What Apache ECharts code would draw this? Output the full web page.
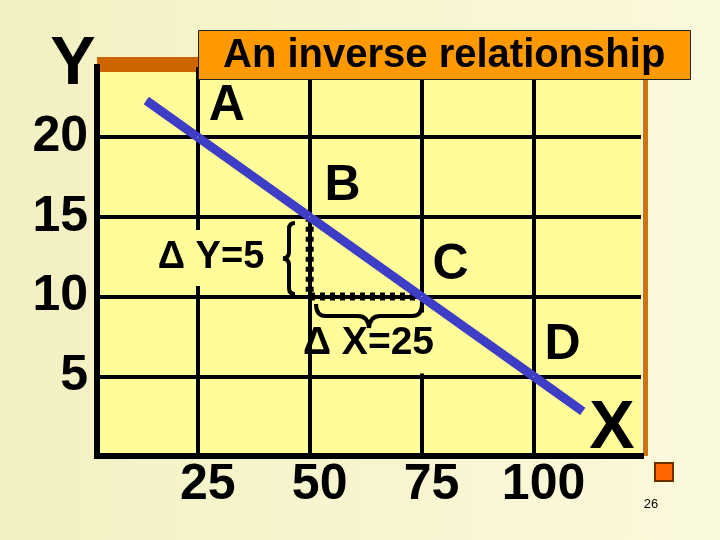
<!DOCTYPE html>
<html>
<head>
<meta charset="utf-8">
<title>An inverse relationship</title>
<script src="https://cdn.jsdelivr.net/npm/echarts@6/dist/echarts.min.js"></script>
<style>
  html, body { margin: 0; padding: 0; }
  #main { width: 720px; height: 540px; }
</style>
</head>
<body>
<div id="main"></div>
<script>
// axis ticks
var xTicks = [25, 50, 75, 100];
var yTicks = [5, 10, 15, 20];
// the demand-style line
var lineX = [13.5, 25, 50, 75, 100, 111];
var lineY = [22.3, 20, 15, 10, 5, 2.8];
// labelled points on the line
var pointNames = ['A', 'B', 'C', 'D'];
var pointX = [25, 50, 75, 100];
var pointY = [20, 15, 10, 5];
// the dotted delta path (B down to 10, then across to C)
var deltaX = [50, 50, 75];
var deltaY = [15, 10, 10];

var FONT = '"Liberation Sans", Arial, sans-serif';
var yellow = '#FFFC99';

function pairs(xs, ys) {
    return xs.map(function (x, i) { return [x, ys[i]]; });
}

// brace built from straight bits and quadratic curves
function brace(segs) {
    return segs.map(function (s) {
        var shape = s.length === 4
            ? { type: 'line', shape: { x1: s[0], y1: s[1], x2: s[2], y2: s[3] } }
            : { type: 'bezierCurve', shape: { x1: s[0], y1: s[1], x2: s[2], y2: s[3], cpx1: s[4], cpy1: s[5] } };
        shape.z = 12;
        shape.style = { stroke: '#000', lineWidth: 4, fill: null };
        return shape;
    });
}

var leftBrace = brace([
    [295, 223, 289, 229, 289, 223],
    [289, 229, 289, 252],
    [289, 252, 283, 258.5, 289, 258],
    [283, 258.5, 289, 265, 289, 259],
    [289, 265, 289, 288],
    [289, 288, 295, 294, 289, 294]
]);
var bottomBrace = brace([
    [316, 304, 326, 316, 316, 316],
    [326, 316, 358, 316],
    [358, 316, 369, 328, 368, 316],
    [369, 328, 380, 316, 370, 316],
    [380, 316, 412, 316],
    [412, 316, 422, 304, 422, 316]
]);

var pointData = pointNames.map(function (n, i) {
    var item = { name: n, value: [pointX[i], pointY[i]] };
    if (n === 'B') {
        item.label = { backgroundColor: yellow, padding: [4, 4, 4, 12] };
    }
    return item;
});

var option = {
    animation: false,
    backgroundColor: {
        type: 'linear', x: 0, y: 0, x2: 1, y2: 0,
        colorStops: [{ offset: 0, color: '#F3F1C2' }, { offset: 1, color: '#FBF9DC' }]
    },
    title: {
        text: 'An inverse relationship',
        left: 198,
        top: 30,
        backgroundColor: '#FF9900',
        borderColor: '#222',
        borderWidth: 1,
        padding: [4, 25, 3, 25],
        textStyle: { fontFamily: FONT, fontSize: 40, fontWeight: 'bold', color: '#000', lineHeight: 43 }
    },
    grid: {
        left: 97, right: 79, top: 67, bottom: 84,
        show: true, backgroundColor: yellow, borderWidth: 0,
        outerBoundsMode: 'none'
    },
    xAxis: [{
        type: 'value', min: 2.5, max: 124, position: 'bottom', z: 3,
        axisLine: { show: true, onZero: false, lineStyle: { color: '#000', width: 6, cap: 'square' } },
        axisTick: { show: false, customValues: xTicks },
        axisLabel: {
            customValues: xTicks, margin: 4, padding: [0, 0, 0, 20],
            fontFamily: FONT, fontSize: 50, fontWeight: 'bold', color: '#000'
        },
        splitLine: { show: true, lineStyle: { color: '#000', width: 4 } }
    }, {
        type: 'value', position: 'top', offset: 2.5, z: 1,
        axisLine: { show: true, onZero: false, lineStyle: { color: '#CC6600', width: 15, cap: 'butt' } },
        axisTick: { show: false }, axisLabel: { show: false }, splitLine: { show: false }
    }],
    yAxis: [{
        type: 'value', min: 0, max: 24.4, position: 'left', z: 3,
        axisLine: { show: true, onZero: false, lineStyle: { color: '#000', width: 6, cap: 'square' } },
        axisTick: { show: false, customValues: yTicks },
        axisLabel: {
            customValues: yTicks, margin: 9,
            fontFamily: FONT, fontSize: 50, fontWeight: 'bold', color: '#000'
        },
        splitLine: { show: true, lineStyle: { color: '#000', width: 4 } }
    }, {
        type: 'value', position: 'right', offset: 4, z: 1,
        axisLine: { show: true, onZero: false, lineStyle: { color: '#CC7410', width: 5, cap: 'butt' } },
        axisTick: { show: false }, axisLabel: { show: false }, splitLine: { show: false }
    }],
    series: [
        {
            type: 'line', data: pairs(deltaX, deltaY), symbol: 'none', z: 2,
            lineStyle: { color: yellow, width: 8 }
        },
        {
            type: 'line', data: pairs(deltaX, deltaY), symbol: 'none', z: 3,
            lineStyle: { color: '#000', width: 8, type: [5, 5], cap: 'butt', join: 'miter' }
        },
        {
            type: 'line', data: pairs(lineX, lineY), symbol: 'none', z: 4,
            lineStyle: { color: '#3D3DC6', width: 9 }
        },
        {
            type: 'scatter', data: pointData, symbolSize: 1, z: 5,
            itemStyle: { color: yellow, opacity: 1 },
            label: {
                show: true, position: 'inside', offset: [29, -31], formatter: '{b}',
                fontFamily: FONT, fontSize: 50, fontWeight: 'bold', color: '#000',
                opacity: 1, textBorderWidth: 0
            }
        }
    ],
    graphic: [
        {
            type: 'text', x: 73, y: 65, z: 12,
            style: { text: 'Y', fontFamily: FONT, fontSize: 68, fontWeight: 'bold', fill: '#000', align: 'center', verticalAlign: 'middle' }
        },
        {
            type: 'text', x: 612, y: 429, z: 12,
            style: { text: 'X', fontFamily: FONT, fontSize: 68, fontWeight: 'bold', fill: '#000', align: 'center', verticalAlign: 'middle' }
        },
        {
            type: 'text', x: 211, y: 258, z: 11,
            style: {
                text: '\u0394 Y=5', fontFamily: FONT, fontSize: 38, fontWeight: 'bold', fill: '#000',
                align: 'center', verticalAlign: 'middle', backgroundColor: yellow, padding: [9, 5, 9, 5]
            }
        },
        {
            type: 'text', x: 303, y: 343, z: 11,
            style: {
                text: '{d|\u0394}{t| X=25}', align: 'left', verticalAlign: 'middle', fill: '#000',
                rich: {
                    d: { fontFamily: FONT, fontSize: 39, fontWeight: 'bold', fill: '#000', verticalAlign: 'middle' },
                    t: { fontFamily: FONT, fontSize: 39, fontWeight: 'bold', fill: '#000', verticalAlign: 'middle',
                         backgroundColor: yellow, padding: [11, 2, 11, 0] }
                }
            }
        },
        {
            type: 'rect', z: 12, shape: { x: 655, y: 463, width: 18, height: 18 },
            style: { fill: '#FF6600', stroke: '#663300', lineWidth: 2 }
        },
        {
            type: 'text', x: 651, y: 504, z: 12,
            style: { text: '26', fontFamily: FONT, fontSize: 13, fill: '#000', align: 'center', verticalAlign: 'middle' }
        }
    ].concat(leftBrace, bottomBrace)
};

var chart = echarts.init(document.getElementById('main'));
chart.setOption(option);
</script>
</body>
</html>
